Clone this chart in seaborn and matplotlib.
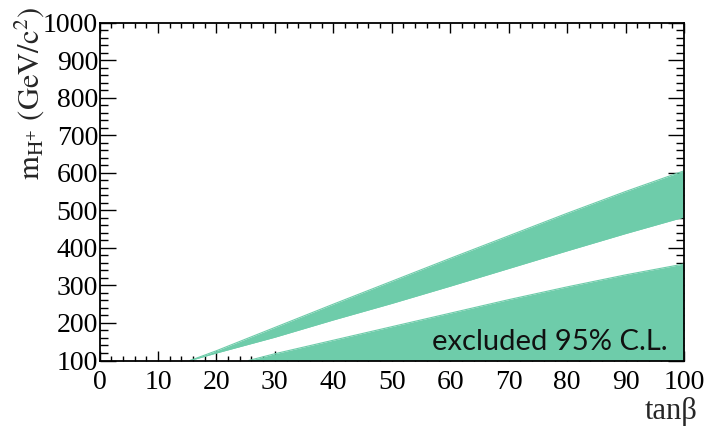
import matplotlib
matplotlib.use("Agg")
import matplotlib.pyplot as plt
from matplotlib.ticker import MultipleLocator
import seaborn as sns
import pandas as pd

# ---- data ----
tanb_upper = [15.5, 20, 30, 40, 50, 60, 70, 80, 90, 100]
upper_band_hi = [100, 126, 188, 250, 311, 372, 432, 492, 550, 605]
upper_band_lo = [100, 120, 162, 208, 252, 298, 345, 392, 438, 482]

tanb_lower = [25.5, 30, 40, 50, 60, 70, 80, 90, 100]
lower_band_hi = [100, 118, 154, 190, 226, 262, 296, 328, 357]
lower_band_lo = [100, 100, 100, 100, 100, 100, 100, 100, 100]

x_ticks = [0, 10, 20, 30, 40, 50, 60, 70, 80, 90, 100]
y_ticks = [100, 200, 300, 400, 500, 600, 700, 800, 900, 1000]
annotation = "excluded 95% C.L."
x_label = "tan\u03b2"
y_label = r"$\mathrm{m_{H^{+}}\ (GeV/c^{2})}$"

band_color = "#6ECCAA"

sns.set_theme(style="ticks")
plt.rcParams["font.family"] = ["Liberation Serif", "DejaVu Serif"]
plt.rcParams["mathtext.fontset"] = "stix"

fig = plt.figure(figsize=(7.07, 4.28), dpi=100)
ax = fig.add_axes([99.5 / 707, 1 - 360.5 / 428, (684 - 99.5) / 707, (360.5 - 22.5) / 428])

up = pd.DataFrame({"tanb": tanb_upper, "hi": upper_band_hi, "lo": upper_band_lo})
lo = pd.DataFrame({"tanb": tanb_lower, "hi": lower_band_hi, "lo": lower_band_lo})

ax.fill_between(up["tanb"], up["lo"], up["hi"], color=band_color, lw=0)
ax.fill_between(lo["tanb"], lo["lo"], lo["hi"], color=band_color, lw=0)
for df in (up, lo):
    sns.lineplot(data=df, x="tanb", y="hi", ax=ax, color=band_color, lw=0.8)
sns.lineplot(data=up, x="tanb", y="lo", ax=ax, color=band_color, lw=0.8)

ax.set_xlim(0, 100)
ax.set_ylim(100, 1000)
ax.set_xticks(x_ticks)
ax.set_yticks(y_ticks)
ax.xaxis.set_minor_locator(MultipleLocator(2))
ax.yaxis.set_minor_locator(MultipleLocator(20))
ax.tick_params(axis="both", which="both", direction="in", top=True, right=True,
               colors="black", width=1.0)
ax.tick_params(axis="x", which="major", length=7.5, labelsize=20, pad=7)
ax.tick_params(axis="x", which="minor", length=3.8)
ax.tick_params(axis="y", which="major", length=11.5, labelsize=20, pad=1)
ax.tick_params(axis="y", which="minor", length=5.8)
for s in ax.spines.values():
    s.set_linewidth(1.3)
    s.set_color("black")

ax.set_xlabel("")
ax.set_ylabel(y_label, fontsize=22, loc="top")
ax.yaxis.set_label_coords(-0.092, 1.045)
fig.text(698 / 707, 1 - 411 / 428, x_label, ha="right", va="center", fontsize=22,
         family=["Liberation Serif", "DejaVu Serif"])

ax.text(97.2, 148, annotation, ha="right", va="center", fontsize=21,
        family=["Lato", "DejaVu Sans"], color="#111111")

fig.savefig("out.png", dpi=100)
